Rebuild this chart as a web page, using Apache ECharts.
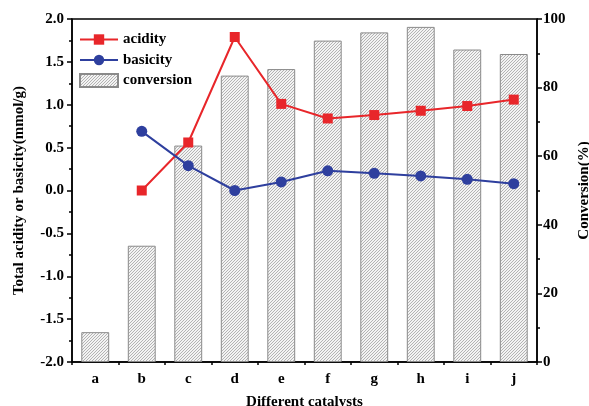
<!DOCTYPE html>
<html><head><meta charset="utf-8">
<script src="https://cdn.jsdelivr.net/npm/echarts@6/dist/echarts.min.js"></script>
<style>html,body{margin:0;padding:0;background:#fff}#c{width:589px;height:406px}</style>
</head><body><div id="c"></div>
<script>
var categories = ['a','b','c','d','e','f','g','h','i','j'];
var acidity = [null, 0.0, 0.56, 1.79, 1.01, 0.84, 0.88, 0.93, 0.985, 1.06];
var basicity = [null, 0.69, 0.29, 0.0, 0.10, 0.23, 0.20, 0.17, 0.13, 0.08];
var conversion = [8.7, 33.9, 63.1, 83.5, 85.4, 93.7, 96.1, 97.7, 91.1, 89.8];

var pc = document.createElement('canvas');
pc.width = 3; pc.height = 3;
var g = pc.getContext('2d');
g.fillStyle = '#f3f3f3'; g.fillRect(0,0,3,3);
g.strokeStyle = '#a2a2a2'; g.lineWidth = 0.8;
g.beginPath();
g.moveTo(0,3); g.lineTo(3,0);
g.moveTo(-1,1); g.lineTo(1,-1);
g.moveTo(2,4); g.lineTo(4,2);
g.stroke();

var F = 'Liberation Serif';
var chart = echarts.init(document.getElementById('c'));
chart.setOption({
  animation: false,
  textStyle: {fontFamily: F},
  grid: {left: 72, right: 52, top: 19, bottom: 44, containLabel: false, outerBoundsMode: 'none', show: true, borderColor: '#000', borderWidth: 1.5, backgroundColor: 'transparent'},
  legend: {
    left: 74, top: 27, orient: 'vertical', itemWidth: 38, itemHeight: 13, itemGap: 5.5,
    textStyle: {fontFamily: F, fontWeight: 'bold', fontSize: 15, color: '#000'},
    data: [{name: 'acidity'}, {name: 'basicity'}, {name: 'conversion', icon: 'rect'}]
  },
  xAxis: [{
    type: 'category', data: categories, boundaryGap: true,
    name: 'Different catalysts', nameLocation: 'middle', nameGap: 33,
    nameTextStyle: {fontFamily: F, fontWeight: 'bold', fontSize: 15, color: '#000'},
    axisLine: {onZero: false, lineStyle: {color: '#000', width: 1.5}},
    axisTick: {alignWithLabel: true, length: 6, lineStyle: {color: '#000', width: 1.5}},
    axisLabel: {fontFamily: F, fontWeight: 'bold', fontSize: 15, color: '#000', margin: 10},
    splitLine: {show: false}
  }, {
    type: 'category', data: categories, boundaryGap: true, position: 'bottom',
    axisLine: {show: false, onZero: false},
    axisTick: {show: true, length: 3, lineStyle: {color: '#000', width: 1.5}},
    axisLabel: {show: false}, splitLine: {show: false}
  }],
  yAxis: [{
    type: 'value', min: -2, max: 2, interval: 0.5,
    name: 'Total acidity or basicity(mmol/g)', nameLocation: 'middle', nameGap: 45,
    nameTextStyle: {fontFamily: F, fontWeight: 'bold', fontSize: 15, color: '#000'},
    axisLine: {show: true, onZero: false, lineStyle: {color: '#000', width: 1.5}},
    axisTick: {show: true, length: 5, lineStyle: {color: '#000', width: 1.5}},
    minorTick: {show: true, splitNumber: 2, length: 3, lineStyle: {color: '#000', width: 1.5}},
    axisLabel: {fontFamily: F, fontWeight: 'bold', fontSize: 15, color: '#000', margin: 8, formatter: function(v){return v.toFixed(1);}},
    splitLine: {show: false}
  }, {
    type: 'value', min: 0, max: 100, interval: 20, position: 'right',
    name: 'Conversion(%)', nameLocation: 'middle', nameGap: 38, nameRotate: 90,
    nameTextStyle: {fontFamily: F, fontWeight: 'bold', fontSize: 15, color: '#000'},
    axisLine: {show: true, onZero: false, lineStyle: {color: '#000', width: 1.5}},
    axisTick: {show: true, length: 5, lineStyle: {color: '#000', width: 1.5}},
    minorTick: {show: true, splitNumber: 2, length: 3, lineStyle: {color: '#000', width: 1.5}},
    axisLabel: {fontFamily: F, fontWeight: 'bold', fontSize: 15, color: '#000', margin: 6},
    splitLine: {show: false}
  }],
  series: [{
    name: 'conversion', type: 'bar', yAxisIndex: 1, data: conversion, barWidth: '60%', z: 1,
    itemStyle: {color: {image: pc, repeat: 'repeat'}, borderColor: '#8a8a8a', borderWidth: 1}
  }, {
    name: 'acidity', type: 'line', yAxisIndex: 0, data: acidity, symbol: 'rect', symbolSize: 10, z: 3,
    lineStyle: {color: '#e8262a', width: 2}, itemStyle: {color: '#e8262a'}
  }, {
    name: 'basicity', type: 'line', yAxisIndex: 0, data: basicity, symbol: 'circle', symbolSize: 11, z: 3,
    lineStyle: {color: '#2e3f9e', width: 2}, itemStyle: {color: '#2e3f9e'}
  }]
});
</script></body></html>
